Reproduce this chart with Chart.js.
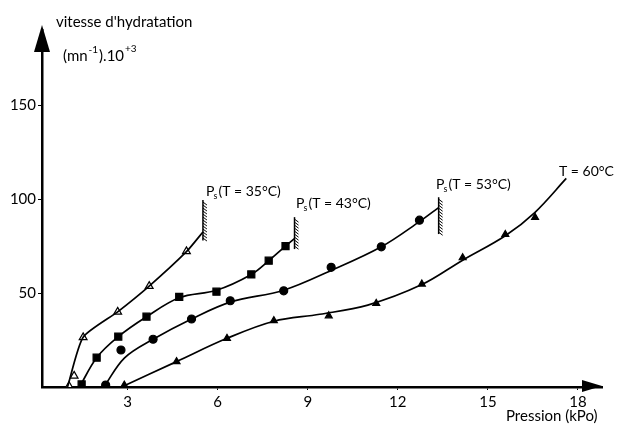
<!DOCTYPE html>
<html>
<head>
<meta charset="utf-8">
<script src="https://cdn.jsdelivr.net/npm/chart.js@4.4.1/dist/chart.umd.min.js"></script>
<style>
  html, body { margin: 0; padding: 0; background: #fff; }
</style>
</head>
<body>
<canvas id="chart" width="629" height="429"></canvas>
<script>
const xTicks = [3, 6, 9, 12, 15, 18];
const yTicks = [50, 100, 150];

// measured points (pression kPa, vitesse x1000)
const pts35 = [[1.05, 0.5], [1.22, 5.9], [1.52, 26.4], [2.67, 40], [3.72, 53.7], [4.96, 72.2]];
const pts43 = [[1.47, 1.4], [1.97, 15.6], [2.69, 26.8], [3.63, 37.4], [4.72, 48.0], [5.96, 50.7], [7.12, 59.9], [7.70, 67.2], [8.26, 75.0]];
const pts53 = [[2.27, 1.0], [2.78, 19.7], [3.85, 25.4], [5.13, 36.2], [6.42, 45.9], [8.20, 51.2], [9.78, 63.7], [11.45, 74.6], [12.72, 88.8]];
const pts60 = [[2.89, 1.0], [4.63, 13.5], [6.31, 25.9], [7.87, 35.3], [9.70, 37.9], [11.28, 44.5], [12.80, 54.8], [14.16, 68.8], [15.58, 81.2], [16.57, 90.3]];

// hand-drawn fitted curves
const curve35 = [[1.0, 0], [1.52, 26.5], [2.67, 40], [3.72, 53.7], [4.96, 72], [5.51, 82.5]];
const curve43 = [[1.40, 0], [1.97, 15.6], [2.69, 26.8], [3.63, 37.4], [4.72, 47.5], [5.96, 51.5], [7.12, 59.9], [7.70, 67.2], [8.26, 75], [8.56, 79]];
const curve53 = [[2.21, 0], [2.9, 15.5], [3.85, 25.4], [5.13, 36.2], [6.42, 45.2], [8.2, 51.5], [9.78, 62], [11.45, 74.6], [12.72, 88], [13.36, 95.5]];
const curve60 = [[2.80, 0], [4.63, 13.5], [6.31, 25.9], [7.87, 35], [9.4, 38.7], [11.0, 43.6], [12.8, 54.5], [14.16, 67.5], [15.58, 80.5], [16.57, 93], [17.61, 111]];

// saturation pressure limits: x, y from, y to
const limits = [[5.51, 78, 99.5], [8.56, 73.4, 90.4], [13.36, 81.4, 101]];

const toXY = arr => arr.map(([x, y]) => ({ x, y }));

const curve = (data, tension = 0.35) => ({
  data: toXY(data),
  showLine: true,
  borderColor: '#000',
  borderWidth: 1.7,
  pointRadius: 0,
  tension,
  fill: false,
});

const marks = (data, style, radius, filled) => ({
  data: toXY(data),
  showLine: false,
  pointStyle: style,
  pointRadius: radius,
  pointBorderColor: '#000',
  pointBorderWidth: 1.2,
  pointBackgroundColor: filled ? '#000' : '#fff',
});

const axesDeco = {
  id: 'axesDeco',
  afterDraw(chart) {
    const { ctx, chartArea: a, scales: { x, y } } = chart;
    ctx.save();
    ctx.fillStyle = '#000';
    ctx.strokeStyle = '#000';

    // arrow heads
    ctx.beginPath();
    ctx.moveTo(a.left, a.top - 5);
    ctx.lineTo(a.left - 8, a.top + 22);
    ctx.lineTo(a.left + 8, a.top + 22);
    ctx.closePath();
    ctx.fill();
    ctx.beginPath();
    ctx.moveTo(a.right, a.bottom - 1);
    ctx.lineTo(a.right - 20, a.bottom - 7);
    ctx.lineTo(a.right - 20, a.bottom + 5);
    ctx.closePath();
    ctx.fill();

    // hatched limits
    ctx.lineWidth = 1.5;
    limits.forEach(([v, y0, y1]) => {
      const px = x.getPixelForValue(v);
      const top = y.getPixelForValue(y1);
      const bot = y.getPixelForValue(y0);
      ctx.beginPath();
      ctx.moveTo(px, top);
      ctx.lineTo(px, bot);
      ctx.stroke();
      ctx.lineWidth = 1;
      for (let t = top + 2; t < bot; t += 3) {
        ctx.beginPath();
        ctx.moveTo(px, t);
        ctx.lineTo(px + 4, t + 3);
        ctx.stroke();
      }
      ctx.lineWidth = 1.5;
    });

    // titles
    ctx.textBaseline = 'alphabetic';
    ctx.textAlign = 'left';
    ctx.font = '15px Lato';
    ctx.fillText("vitesse d'hydratation", 56, 27);
    let cx = 63;
    ctx.fillText('(mn', cx, 61);
    cx += ctx.measureText('(mn').width;
    ctx.font = '10px Lato';
    ctx.fillText('-1', cx + 1, 53);
    cx += ctx.measureText('-1').width + 2;
    ctx.font = '15px Lato';
    ctx.fillText(').10', cx, 61);
    cx += ctx.measureText(').10').width;
    ctx.font = '10px Lato';
    ctx.fillText('+3', cx + 1, 52);

    ctx.font = '15px Lato';
    ctx.fillText('Pression (kPo)', 506, 421);

    const ps = (text, px, py) => {
      ctx.font = '14px Lato';
      ctx.fillText('P', px, py);
      const w = ctx.measureText('P').width;
      ctx.font = '9px Lato';
      ctx.fillText('s', px + w - 1, py + 3);
      ctx.font = '14px Lato';
      ctx.fillText(text, px + w + 4, py);
    };
    ps('(T = 35°C)', 206, 196);
    ps('(T = 43°C)', 296, 208);
    ps('(T = 53°C)', 436, 189);
    ctx.font = '14px Lato';
    ctx.fillText('T = 60°C', 559, 176);
    ctx.restore();
  }
};

new Chart(document.getElementById('chart'), {
  type: 'scatter',
  data: {
    datasets: [
      curve(curve35, 0.2), curve(curve43), curve(curve53), curve(curve60),
      marks(pts35, 'triangle', 4.5, false),
      marks(pts43, 'rect', 5, true),
      marks(pts53, 'circle', 4, true),
      marks(pts60, 'triangle', 4, true),
    ]
  },
  options: {
    responsive: false,
    animation: false,
    layout: { padding: { top: 30, right: 27, left: 0, bottom: 0 } },
    plugins: { legend: { display: false }, tooltip: { enabled: false } },
    scales: {
      x: {
        type: 'linear',
        min: 0.15,
        max: 18.8,
        afterBuildTicks: s => { s.ticks = xTicks.map(value => ({ value })); },
        afterFit: s => { s.height = 42; },
        border: { display: true, color: '#000', width: 2.5 },
        grid: { drawOnChartArea: false, color: '#000', tickLength: 3 },
        ticks: { color: '#000', font: { family: 'Lato', size: 15 }, padding: 3, maxRotation: 0 },
      },
      y: {
        min: 0,
        max: 190,
        afterBuildTicks: s => { s.ticks = yTicks.map(value => ({ value })); },
        afterFit: s => { s.width = 42; },
        border: { display: true, color: '#000', width: 2.5 },
        grid: { drawOnChartArea: false, color: '#000', tickLength: 4 },
        ticks: { color: '#000', font: { family: 'Lato', size: 15 }, padding: 2 },
      }
    }
  },
  plugins: [axesDeco]
});
</script>
</body>
</html>
